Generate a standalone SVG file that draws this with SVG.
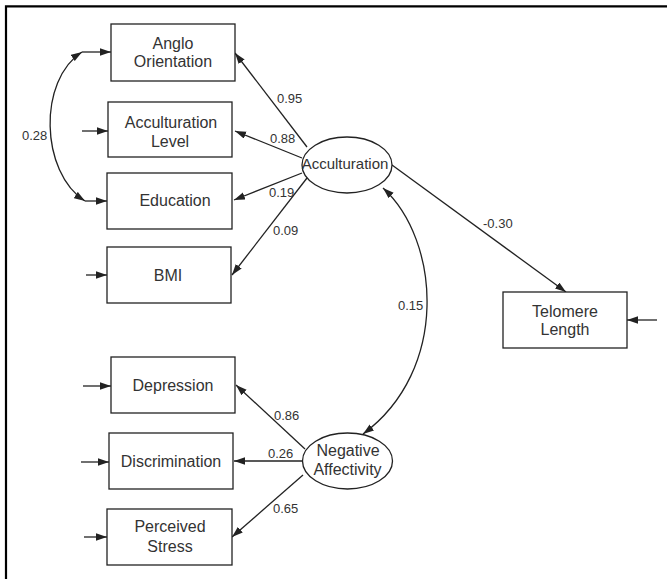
<svg xmlns="http://www.w3.org/2000/svg" width="667" height="579" viewBox="0 0 667 579">
<style>
.box{fill:#fff;stroke:#222;stroke-width:1.3}
.ell{fill:#fff;stroke:#222;stroke-width:1.3}
.t{font-family:"Liberation Sans",Arial,sans-serif;font-size:16px;fill:#333;text-anchor:middle}
.s{font-size:15px}
.lb{font-family:"Liberation Sans",Arial,sans-serif;font-size:13px;fill:#333}
.c{fill:none;stroke:#222;stroke-width:1.3;marker-end:url(#ah)}
.d{fill:none;stroke:#222;stroke-width:1.3;marker-end:url(#ah);marker-start:url(#ah)}
</style>
<defs>
<marker id="ah" markerUnits="userSpaceOnUse" markerWidth="12" markerHeight="8" refX="11" refY="3.75" orient="auto-start-reverse" viewBox="0 0 12 8">
<path d="M0,0 L11,3.75 L0,7.5 z" fill="#222"/>
</marker>
</defs>
<rect width="667" height="579" fill="#fff"/>
<path d="M6,579 V6.3 H667" fill="none" stroke="#000" stroke-width="2.2"/>

<g id="connectors">
<line class="c" x1="307" y1="147" x2="235" y2="53"/>
<line class="c" x1="302" y1="158" x2="235" y2="131"/>
<line class="c" x1="302" y1="173" x2="234" y2="200"/>
<line class="c" x1="307" y1="178" x2="232" y2="275"/>
<line class="c" x1="392" y1="165" x2="566" y2="292"/>
<line class="c" x1="305" y1="449" x2="236" y2="385"/>
<line class="c" x1="303" y1="461" x2="234" y2="461"/>
<line class="c" x1="303" y1="475" x2="232" y2="537"/>
<path class="d" d="M383,188 C440,240 450,370 363,434"/>
<path class="d" d="M82,52 C38,80 40,172 85,201"/>
<line class="c" x1="82" y1="52" x2="111" y2="52"/>
<line class="c" x1="85" y1="201" x2="107" y2="201"/>
<line class="c" x1="82" y1="131" x2="108" y2="131"/>
<line class="c" x1="86" y1="275" x2="107" y2="275"/>
<line class="c" x1="83" y1="386" x2="111" y2="386"/>
<line class="c" x1="81" y1="462" x2="109" y2="462"/>
<line class="c" x1="84" y1="537" x2="107" y2="537"/>
<line class="c" x1="657" y1="320" x2="627" y2="320"/>
<text class="lb" x="277" y="103">0.95</text>
<text class="lb" x="270" y="143">0.88</text>
<text class="lb" x="269" y="197">0.19</text>
<text class="lb" x="273" y="235">0.09</text>
<text class="lb" x="22" y="140">0.28</text>
<text class="lb" x="274" y="420">0.86</text>
<text class="lb" x="268" y="458">0.26</text>
<text class="lb" x="273" y="513">0.65</text>
<text class="lb" x="483" y="228">-0.30</text>
<text class="lb" x="398" y="310">0.15</text>
</g>

<g id="anglo"><rect class="box" x="111" y="24" width="124" height="57"/><text class="t" x="173" y="49">Anglo</text><text class="t" x="173" y="67">Orientation</text></g>
<g id="acclevel"><rect class="box" x="108" y="102" width="124" height="55"/><text class="t" x="171" y="128">Acculturation</text><text class="t" x="170" y="147">Level</text></g>
<g id="education"><rect class="box" x="107" y="173" width="125" height="56"/><text class="t" x="175" y="206">Education</text></g>
<g id="bmi"><rect class="box" x="107" y="247" width="124" height="56"/><text class="t" x="168" y="281">BMI</text></g>
<g id="depression"><rect class="box" x="111" y="357" width="124" height="56"/><text class="t" x="173" y="391">Depression</text></g>
<g id="discrimination"><rect class="box" x="109" y="433" width="124" height="56"/><text class="t" x="171" y="467">Discrimination</text></g>
<g id="stress"><rect class="box" x="107" y="509" width="125" height="56"/><text class="t" x="170" y="532">Perceived</text><text class="t" x="170" y="552">Stress</text></g>
<g id="telomere"><rect class="box" x="503" y="292" width="124" height="56"/><text class="t" x="565" y="317">Telomere</text><text class="t" x="565" y="335">Length</text></g>
<g id="acculturation"><ellipse class="ell" cx="347" cy="165" rx="45" ry="28"/><text class="t s" x="345" y="169">Acculturation</text></g>
<g id="negaff"><ellipse class="ell" cx="347.5" cy="461" rx="45" ry="28"/><text class="t" x="348" y="456">Negative</text><text class="t" x="347.5" y="475">Affectivity</text></g>
</svg>
